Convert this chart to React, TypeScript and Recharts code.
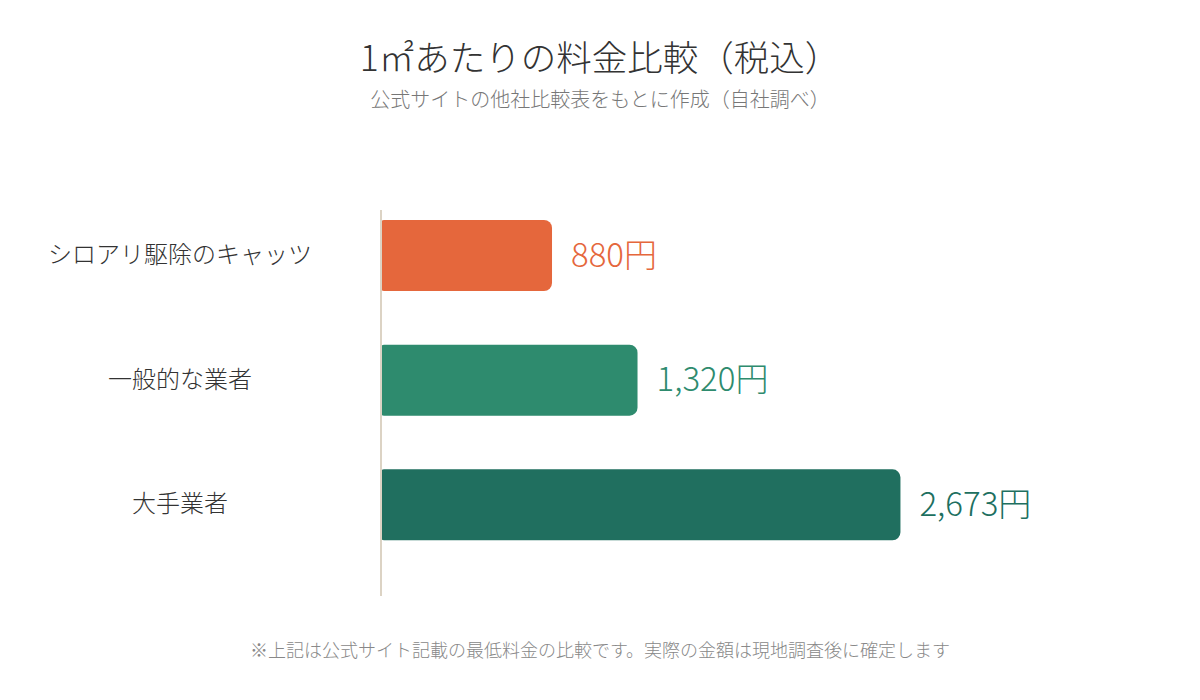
import React from 'react';
import { BarChart, Bar, XAxis, YAxis, Cell, LabelList } from 'recharts';

const categories = ['シロアリ駆除のキャッツ', '一般的な業者', '大手業者'];
const prices = [880, 1320, 2673];
const barColors = ['#E5673C', '#2E8B6E', '#206F5F'];
const xDomain = [0, 3000];

const FONT = '"Noto Sans CJK JP", "Noto Sans", sans-serif';

const data = categories.map((name, i) => ({ name, price: prices[i] }));

const CategoryTick = (props: any) => {
  const { y, payload } = props;
  return (
    <text x={180} y={y - 3} textAnchor="middle" dominantBaseline="central" fontSize={24} fontWeight={300} fill="#333" fontFamily={FONT}>
      {payload.value}
    </text>
  );
};

const PriceLabel = (props: any) => {
  const { x, y, width, height, value, index } = props;
  return (
    <text
      x={x + width + 19}
      y={y + height / 2 - 3}
      dominantBaseline="central"
      fontSize={33}
      fontWeight={300}
      fill={barColors[index]}
      fontFamily={FONT}
    >
      {`${Number(value).toLocaleString('en-US')}円`}
    </text>
  );
};

export default function App() {
  return (
    <div style={{ position: 'absolute', left: 0, top: 0, width: 1200, height: 700, background: '#fff', fontFamily: FONT, fontWeight: 300 }}>
      <div style={{ position: 'absolute', top: 38, width: 1200, textAlign: 'center', fontSize: 35.5, lineHeight: '36px', color: '#333' }}>
        1㎡あたりの料金比較（税込）
      </div>
      <div style={{ position: 'absolute', top: 89, width: 1200, textAlign: 'center', fontSize: 20, lineHeight: '20px', color: '#777' }}>
        公式サイトの他社比較表をもとに作成（自社調べ）
      </div>
      <div style={{ position: 'absolute', top: 0, left: 0 }}>
        <BarChart
          width={1200}
          height={700}
          data={data}
          layout="vertical"
          margin={{ top: 210, right: 236, bottom: 104, left: 0 }}
        >
          <XAxis type="number" domain={xDomain} hide />
          <YAxis
            type="category"
            dataKey="name"
            width={381}
            axisLine={{ stroke: '#DCD3C4', strokeWidth: 2 }}
            tickLine={false}
            tick={<CategoryTick />}
            padding={{ top: -17, bottom: 29 }}
          />
          <Bar dataKey="price" barSize={71} radius={[3, 8, 8, 3]} isAnimationActive={false}>
            {data.map((d, i) => (
              <Cell key={d.name} fill={barColors[i]} />
            ))}
            <LabelList dataKey="price" content={<PriceLabel />} />
          </Bar>
        </BarChart>
      </div>
      <div style={{ position: 'absolute', top: 640, width: 1200, textAlign: 'center', fontSize: 18, lineHeight: '18px', color: '#888' }}>
        ※上記は公式サイト記載の最低料金の比較です。実際の金額は現地調査後に確定します
      </div>
    </div>
  );
}
